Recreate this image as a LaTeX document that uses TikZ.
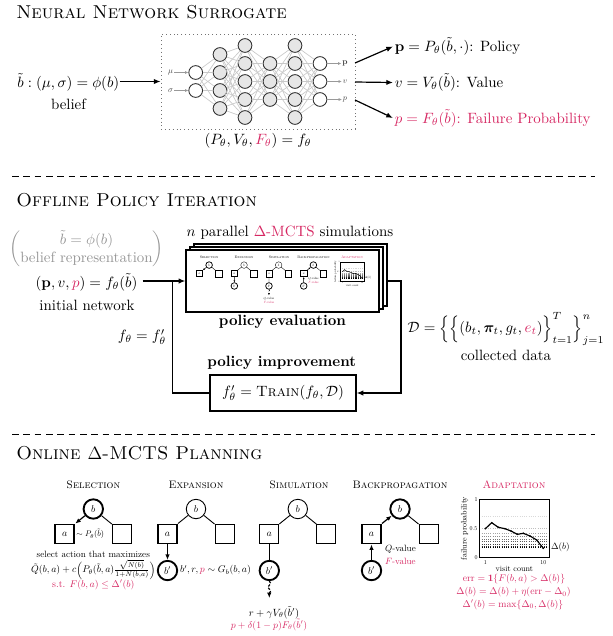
\documentclass[tikz,border=0pt]{standalone}
\usepackage{amsmath,amssymb,bm,graphicx}
\usetikzlibrary{arrows.meta,decorations.pathmorphing}
\definecolor{pinkc}{RGB}{214,39,98}
\definecolor{graytxt}{RGB}{150,150,150}
\definecolor{nnedgec}{RGB}{200,200,200}
\definecolor{nnfill}{RGB}{230,230,230}
\newcommand{\pk}[1]{\textcolor{pinkc}{#1}}
\newcommand{\indic}{\mathbf{1}}
\newcommand{\tl}[1]{\scalebox{0.66}{$#1$}}
\newcommand{\sectfont}{\fontsize{12.5}{15}\selectfont\scshape}
\newcommand{\pttl}{\fontsize{7.25}{9}\selectfont\scshape}
\def\lw{1}
\tikzset{
  secttl/.style={font=\sectfont, anchor=base west, inner sep=0},
  sepline/.style={dash pattern=on 4.5pt off 3.1pt, line width=0.6pt},
  arr/.style={line width=0.8pt, -{Latex[length=4.5pt,width=3.6pt]}},
  ln/.style={line width=0.8pt},
  nn/.style={circle, draw=black!80, line width=0.6pt, minimum size=9.2pt, inner sep=0},
  nnedge/.style={draw=nnedgec, line width=0.45pt},
  nnlab/.style={font=\normalsize, scale=0.55, text=black!75, inner sep=1pt},
  nnarr/.style={draw=black!40, line width=0.45pt, -{Latex[length=2.2pt,width=2pt]}},
  evbox/.style={draw, line width=0.9pt, fill=white, minimum width=129.3pt, minimum height=41.5pt, inner sep=0},
  ptitle/.style={font=\pttl, anchor=base, inner sep=0},
  tcirc/.style={circle, draw, minimum size=13pt, inner sep=0, line width=\lw*0.6pt, fill=white},
  tsq/.style={rectangle, draw, minimum size=12.8pt, inner sep=0, line width=\lw*0.6pt, fill=white},
  thk/.style={line width=\lw*1.25pt},
  tline/.style={line width=\lw*0.6pt},
  tarr/.style={line width=\lw*0.8pt, -{Latex[length=3.6pt,width=3pt,scale=\lw]}},
  psmn/.style={font=\normalsize, scale=0.61, inner sep=1pt},
  pmath/.style={font=\normalsize, scale=0.655, inner sep=1pt},
  ptnn/.style={font=\normalsize, scale=0.54, inner sep=1pt},
  ptkn/.style={font=\normalsize, scale=0.4, inner sep=0.5pt},
}
\newcommand{\mctsrow}[1]{%
  \node[ptitle] (#1t1) at (93.3,488.5) {Selection};
  \node[ptitle] (#1t2) at (196,488.5) {Expansion};
  \node[ptitle] (#1t3) at (299,488.5) {Simulation};
  \node[ptitle] (#1t4) at (400,488.5) {Backpropagation};
  \node[ptitle,text=pinkc] (#1t5) at (514,488.5) {Adaptation};
  % selection
  \node[tcirc,thk] (#1sb) at (93.3,509) {\tl{b}};
  \node[tsq,thk] (#1sa) at (64.8,534) {\tl{a}};
  \node[tsq] (#1sr) at (121.8,534) {};
  \draw[tline] (#1sb) -- (#1sr.north west);
  \draw[tarr] (#1sb) -- (#1sa.north east);
  % expansion
  \node[tcirc] (#1eb) at (196,509) {\tl{b}};
  \node[tsq,thk] (#1ea) at (167.5,534) {\tl{a}};
  \node[tsq] (#1er) at (224.5,534) {};
  \node[tcirc,thk] (#1ebp) at (167.5,570.5) {\tl{b'}};
  \draw[tline] (#1eb) -- (#1er.north west);
  \draw[tline] (#1eb) -- (#1ea.north east);
  \draw[tarr] (#1ea) -- (#1ebp);
  % simulation
  \node[tcirc] (#1mb) at (297.8,509) {\tl{b}};
  \node[tsq] (#1ma) at (269.3,534) {\tl{a}};
  \node[tsq] (#1mr) at (326.3,534) {};
  \node[tcirc,thk] (#1mbp) at (269.3,570.5) {\tl{b'}};
  \coordinate (#1mend) at (269.3,598);
  \draw[tline] (#1mb) -- (#1mr.north west);
  \draw[tline] (#1mb) -- (#1ma.north east);
  \draw[tline] (#1ma) -- (#1mbp);
  \draw[tarr, dash pattern=on 1.6pt off 1.2pt, decorate, decoration={snake, amplitude=\lw*1pt, segment length=\lw*5pt, post length=\lw*3pt}] (#1mbp) -- (#1mend);
  % backpropagation
  \node[tcirc,thk] (#1bb) at (400,509) {\tl{b}};
  \node[tsq,thk] (#1ba) at (371.5,534) {\tl{a}};
  \node[tsq] (#1br) at (428.5,534) {};
  \node[tcirc,thk] (#1bbp) at (371.5,570.5) {\tl{b'}};
  \draw[tline] (#1bb) -- (#1br.north west);
  \draw[tarr] (#1ba.north east) -- (#1bb);
  \draw[tarr] (#1bbp) -- (#1ba);
  \node[psmn, anchor=west] (#1bq) at (384,549.5) {$Q$-value};
  \node[psmn, anchor=west, text=pinkc] (#1bf) at (384,561.5) {$F$-value};
  % adaptation plot
  \foreach \yy/\cc in {516.7/15,528.3/25,533.3/35,536.7/45,539/55,541.7/65,544/75,546/85,547.3/100}
    \draw[densely dotted, black!\cc, line width=\lw*0.5pt] (479.3,\yy) -- (549.3,\yy);
  \draw[line width=\lw*0.8pt] (479.3,499.3) rectangle (549.3,557.7);
  \draw[line width=\lw*0.8pt] plot coordinates {(485.3,528.7) (491.7,522.7) (498.3,527.3) (505,528.7) (511,531) (517.3,534.3) (523.3,533.3) (530,536) (536.7,540) (543.3,548.3)};
  \foreach \px/\py in {485.3/528.7,491.7/522.7,498.3/527.3,505/528.7,511/531,517.3/534.3,523.3/533.3,530/536,536.7/540,543.3/548.3}
    \fill (\px,\py) circle (0.9);
  \node[ptkn] (#1ya) at (476,499.5) {1};
  \node[ptkn] (#1yb) at (473.5,528.5) {0.5};
  \node[ptkn] (#1yc) at (476,557.7) {0};
  \node[ptkn] (#1xa) at (485.3,562.3) {1};
  \node[ptkn] (#1xb) at (543.3,562.3) {10};
  \node[ptnn, rotate=90] (#1yl) at (464.5,528.5) {failure probability};
  \node[ptnn] (#1xl) at (514.3,569.3) {visit count};
  \node[psmn, anchor=west] (#1dl) at (550,547.3) {$\Delta(b)$};
}

\begin{document}
\begin{tikzpicture}[x=0.67pt,y=-0.67pt]
\useasboundingbox (0,0) rectangle (613,636);

% ================= Section 1 =================
\node[secttl] (s1) at (16,18.5) {Neural Network Surrogate};
\node[anchor=base west, inner sep=0] (bt) at (17,87) {$\tilde{b} : (\mu,\sigma) = \phi(b)$};
\node[anchor=base, inner sep=0] (belief) at (68.5,109) {belief};
\node[draw=black!55, dotted, line width=0.6pt, minimum width=130pt, minimum height=63.6pt, inner sep=0] (nnbox) at (258,81.5) {};
\draw[arr] (bt.east |- nnbox.west) -- (nnbox.west);

\foreach \L/\x/\n/\yo/\f in {1/195.7/2/72.5/white, 2/220/4/54.5/nnfill, 3/245/5/45.5/nnfill, 4/270/3/63.5/nnfill, 5/295/5/45.5/nnfill, 6/320/3/63.5/white}
  \foreach \i in {1,...,\n}
    \node[nn, fill=\f] (n\L-\i) at (\x,{\yo+18*(\i-1)}) {};
\foreach \L/\n/\M/\m in {1/2/2/4, 2/4/3/5, 3/5/4/3, 4/3/5/5, 5/5/6/3}
  \foreach \i in {1,...,\n}
    \foreach \j in {1,...,\m}
      \draw[nnedge] (n\L-\i) -- (n\M-\j);
\node[nnlab] (mu) at (170.7,72.5) {$\mu$};
\node[nnlab] (sg) at (170.7,90.5) {$\sigma$};
\draw[nnarr] (mu) -- (n1-1);
\draw[nnarr] (sg) -- (n1-2);
\node[nnlab] (op1) at (345,63.5) {$\mathbf{p}$};
\node[nnlab] (op2) at (345,81.5) {$v$};
\node[nnlab] (op3) at (345,99.5) {$p$};
\draw[nnarr] (n6-1) -- (op1);
\draw[nnarr] (n6-2) -- (op2);
\draw[nnarr] (n6-3) -- (op3);
\node (fth) at (258,140.5) {$(P_\theta, V_\theta, \pk{F_\theta}) = f_\theta$};

\coordinate (o1) at (355,63);
\coordinate (o2) at (355,82);
\coordinate (o3) at (355,100);
\node[anchor=west, inner sep=1pt] (pol) at (393,46.5) {$\mathbf{p} = P_\theta(\tilde{b},\cdot)$: Policy};
\node[anchor=west, inner sep=1pt] (val) at (393,82.5) {$v = V_\theta(\tilde{b})$: Value};
\node[anchor=west, inner sep=1pt, text=pinkc] (fail) at (393,118) {$p = F_\theta(\tilde{b})$: Failure Probability};
\draw[arr] (o1) -- (pol.west);
\draw[arr] (o2) -- (val.west);
\draw[arr] (o3) -- (fail.west);

% separator 1
\coordinate (d1a) at (12,176);
\coordinate (d1b) at (595,176);
\draw[sepline] (d1a) -- (d1b);

% ================= Section 2 =================
\node[secttl] (s2) at (16,206) {Offline Policy Iteration};
\node[text=graytxt] (brep) at (86.5,249) {$\left(\begin{array}{@{}c@{}}\tilde{b} = \phi(b)\\ \text{belief representation}\end{array}\right)$};
\node (initf) at (86.5,282) {$(\mathbf{p}, v, \pk{p}) = f_\theta(\tilde{b})$};
\node (initl) at (87,305) {initial network};

\node (npar) at (290,232.7) {$n$ parallel \pk{$\Delta$-MCTS} simulations};
\node[evbox] (evalback) at (290.5,275) {};
\node[evbox] (evalmid) at (286.5,278) {};
\node[evbox] (evalfront) at (282.5,281) {};
\begin{scope}[shift={(177.4,92)}, scale=0.34, transform shape]
  \def\lw{0.4}
  \mctsrow{m}
  \node[psmn] (msq) at (269.3,607) {$Q$-value};
  \node[psmn, text=pinkc] (msf) at (269.3,619) {$F$-value};
\end{scope}
\node[font=\bfseries] (peval) at (282.5,321.7) {policy evaluation};
\node[font=\bfseries] (pimp) at (281.7,362.7) {policy improvement};
\node[draw, line width=0.9pt, minimum width=97.8pt, minimum height=23.9pt] (train) at (283,393) {$f'_\theta = \textsc{Train}(f_\theta, \mathcal{D})$};

\draw[arr] (initf.east |- evalfront.west) -- (evalfront.west);
\coordinate (jn) at (172.7,281);
\draw[ln] (train.west) -| (jn);
\coordinate (rout) at (387,281);
\coordinate (rc) at (401,281);
\draw[arr] (rout) -- (rc) |- (train.east);
\node (feq) at (142,337) {$f_\theta = f'_\theta$};
\node (dset) at (506,328.5) {$\mathcal{D} = \Big\{\Big\{(b_t, \bm{\pi}_t, g_t, \pk{e_t})\Big\}_{t=1}^{T}\Big\}_{j=1}^{n}$};
\node (coll) at (506,355) {collected data};

% separator 2
\coordinate (d2a) at (12,434.5);
\coordinate (d2b) at (595,434.5);
\draw[sepline] (d2a) -- (d2b);

% ================= Section 3 =================
\node[secttl] (s3) at (16,459) {Online $\Delta$-MCTS Planning};
\mctsrow{f}
\node[psmn, scale=0.9, anchor=west] (selp) at (75.5,534) {$\sim P_\theta(\tilde{b})$};
\node[psmn] (sel1) at (93.3,554) {select action that maximizes};
\node[pmath] (sel2) at (93.3,569.5) {$\tilde{Q}(b,a) + c\Big(P_\theta(\tilde{b},a)\frac{\sqrt{N(b)}}{1+N(b,a)}\Big)$};
\node[pmath, text=pinkc] (sel3) at (93.3,585) {s.t. $F(b,a) \le \Delta'(b)$};
\node[pmath, anchor=west] (expt) at (179,570.5) {$b', r, \pk{p} \sim G_b(b,a)$};
\node[pmath, scale=1.07] (sim1) at (274,612.7) {$r + \gamma V_\theta(\tilde{b}')$};
\node[pmath, text=pinkc] (sim2) at (269,625) {$p + \delta(1-p)F_\theta(\tilde{b}')$};
\node[pmath, text=pinkc] (ad1) at (514,579.3) {$\mathrm{err} = \indic\{F(b,a) > \Delta(b)\}$};
\node[pmath, text=pinkc] (ad2) at (513.5,592.3) {$\Delta(b) = \Delta(b) + \eta(\mathrm{err} - \Delta_0)$};
\node[pmath, text=pinkc] (ad3) at (513,605) {$\Delta'(b) = \max\{\Delta_0, \Delta(b)\}$};
\end{tikzpicture}
\end{document}
